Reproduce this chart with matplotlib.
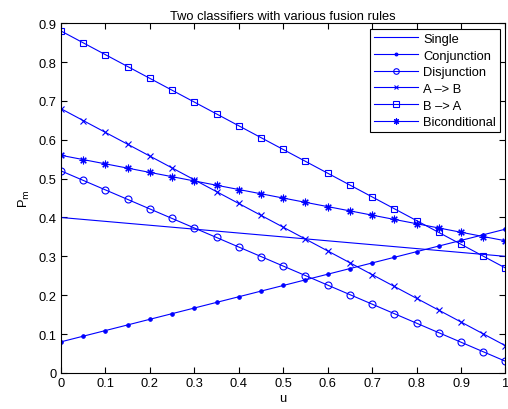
import matplotlib
matplotlib.use("Agg")
import matplotlib.pyplot as plt

# ── Data ──────────────────────────────────────────────────────────────────────
u = [0.00, 0.05, 0.10, 0.15, 0.20, 0.25, 0.30, 0.35, 0.40, 0.45, 0.50,
     0.55, 0.60, 0.65, 0.70, 0.75, 0.80, 0.85, 0.90, 0.95, 1.00]

single = [0.400, 0.395, 0.390, 0.385, 0.380, 0.375, 0.370, 0.365, 0.360, 0.355, 0.350,
          0.345, 0.340, 0.335, 0.330, 0.325, 0.320, 0.315, 0.310, 0.305, 0.300]
conjunction = [0.080, 0.0945, 0.109, 0.1235, 0.138, 0.1525, 0.167, 0.1815, 0.196, 0.2105, 0.225,
               0.2395, 0.254, 0.2685, 0.283, 0.2975, 0.312, 0.3265, 0.341, 0.3555, 0.370]
disjunction = [0.520, 0.4955, 0.471, 0.4465, 0.422, 0.3975, 0.373, 0.3485, 0.324, 0.2995, 0.275,
               0.2505, 0.226, 0.2015, 0.177, 0.1525, 0.128, 0.1035, 0.079, 0.0545, 0.030]
a_to_b = [0.680, 0.6495, 0.619, 0.5885, 0.558, 0.5275, 0.497, 0.4665, 0.436, 0.4055, 0.375,
          0.3445, 0.314, 0.2835, 0.253, 0.2225, 0.192, 0.1615, 0.131, 0.1005, 0.070]
b_to_a = [0.880, 0.8495, 0.819, 0.7885, 0.758, 0.7275, 0.697, 0.6665, 0.636, 0.6055, 0.575,
          0.5445, 0.514, 0.4835, 0.453, 0.4225, 0.392, 0.3615, 0.331, 0.3005, 0.270]
bicond = [0.560, 0.549, 0.538, 0.527, 0.516, 0.505, 0.494, 0.483, 0.472, 0.461, 0.450,
          0.439, 0.428, 0.417, 0.406, 0.395, 0.384, 0.373, 0.362, 0.351, 0.340]

ASTERISK = (8, 2, 0)   # MATLAB-style '*' : 8 spokes

series = [
    (single,      "Single",        None,     0),
    (conjunction, "Conjunction",   ".",      5),
    (disjunction, "Disjunction",   "o",      5),
    (a_to_b,      "A \u2013> B",   "x",      4),
    (b_to_a,      "B \u2013> A",   "s",      5),
    (bicond,      "Biconditional", ASTERISK, 5.5),
]

xticks = [0, 0.1, 0.2, 0.3, 0.4, 0.5, 0.6, 0.7, 0.8, 0.9, 1]
yticks = [0, 0.1, 0.2, 0.3, 0.4, 0.5, 0.6, 0.7, 0.8, 0.9]

# ── Style ─────────────────────────────────────────────────────────────────────
BLUE = "#0000ff"
plt.rcParams["font.family"] = ["Liberation Sans", "DejaVu Sans"]
FS = 9.3

fig = plt.figure(figsize=(5.08, 4.10), dpi=100)
ax = fig.add_axes([0.120, 0.088, 0.875, 0.853])

for ys, label, mk, ms in series:
    ax.plot(u, ys, color=BLUE, linewidth=0.8, marker=mk, markersize=ms,
            markerfacecolor="none" if mk in ("o", "s") else BLUE,
            markeredgewidth=0.8, label=label)

ax.set_xlim(0, 1)
ax.set_ylim(0, 0.9)
ax.set_xticks(xticks)
ax.set_yticks(yticks)
ax.set_xticklabels([f"{t:g}" for t in xticks])
ax.set_yticklabels([f"{t:g}" for t in yticks])
ax.tick_params(direction="in", top=True, right=True, labelsize=FS,
               length=4, width=0.8, pad=3)
for s in ax.spines.values():
    s.set_linewidth(0.8)

ax.set_xlabel("u", fontsize=FS, labelpad=2)
ax.set_ylabel("P$_\\mathrm{m}$", fontsize=FS, labelpad=5)
ax.set_title("Two classifiers with various fusion rules", fontsize=FS, pad=3)

leg = ax.legend(loc="upper right", fontsize=FS, handlelength=3.4,
                fancybox=False, framealpha=1, edgecolor="black",
                borderaxespad=0.45, labelspacing=0.36, handletextpad=0.4,
                borderpad=0.3, markerscale=0.8)
leg.get_frame().set_linewidth(0.8)

fig.savefig("out.png", dpi=100)
